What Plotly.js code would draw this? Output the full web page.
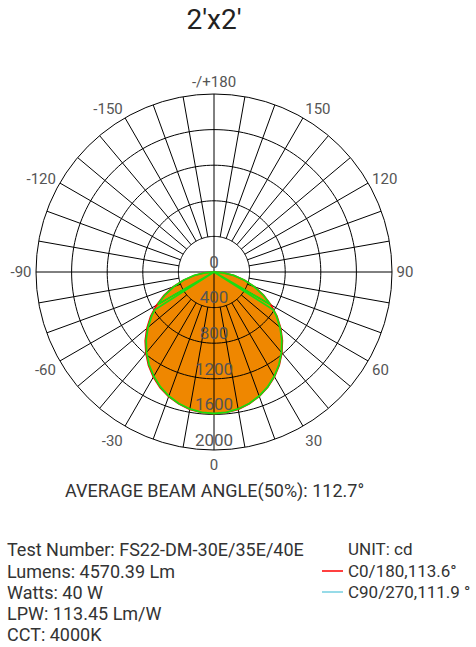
<!DOCTYPE html>
<html>
<head>
<meta charset="utf-8">
<script src="https://cdn.plot.ly/plotly-3.0.1.min.js"></script>
<style>html,body{margin:0;padding:0;background:#fff;}#chart{width:476px;height:647px;}</style>
</head>
<body>
<div id="chart"></div>
<script>
// ---- data ----
const angleTickVals = [0, 30, 60, 90, 120, 150, 180, 210, 240, 270, 300, 330];
const angleTickText = ['0', '30', '60', '90', '120', '150', '-/+180', '-150', '-120', '-90', '-60', '-30'];
const radialTicks = [0, 400, 800, 1200, 1600, 2000];

// C0/180 curve (cd)
const c0Theta = [-90,-85,-80,-75,-70,-65,-60,-55,-50,-45,-40,-35,-30,-25,-20,-15,-10,-5,0,5,10,15,20,25,30,35,40,45,50,55,60,65,70,75,80,85,90];
const c0R = [0,108,232,360,490,620,746,870,986,1094,1192,1284,1364,1434,1490,1535,1568,1586,1592,1586,1568,1533,1488,1430,1360,1280,1188,1088,980,864,740,614,486,356,230,106,0];

// C90/270 curve (cd)
const c90Theta = [-90,-85,-80,-75,-70,-65,-60,-58,-57.5,-55,-50,-45,-40,-35,-30,-25,-20,-15,-10,-5,0,5,10,15,20,25,30,35,40,45,50,55,57.5,58,60,65,70,75,80,85,90];
const c90R = [0,103,224,349,478,606,731,0,790,854,969,1078,1179,1272,1353,1424,1483,1529,1563,1583,1590,1583,1563,1529,1483,1424,1353,1272,1179,1078,969,854,790,0,731,606,478,349,224,103,0];

const titleText = "2'x2'";
const beamText = 'AVERAGE BEAM ANGLE(50%): 112.7°';
const infoLines = ['Test Number: FS22-DM-30E/35E/40E', 'Lumens: 4570.39 Lm', 'Watts: 40 W', 'LPW: 113.45 Lm/W', 'CCT: 4000K'];
const unitText = 'UNIT: cd';
const legendNames = ['C0/180,113.6°', 'C90/270,111.9 °'];
const legendColors = ['#ff0000', '#74cfe0'];

// ---- grid (drawn as traces so it sits above the fill) ----
const RMAX = 2000;
const circleR = [], circleT = [];
radialTicks.filter(v => v > 0 && v < RMAX).forEach(rv => {
  for (let a = 0; a <= 360; a += 2) { circleR.push(rv); circleT.push(a); }
  circleR.push(null); circleT.push(null);
});
const spokeR = [], spokeT = [];
for (let a = 0; a < 360; a += 10) {
  const r0 = (a % 90 === 0) ? 0 : radialTicks[1];
  spokeR.push(r0, RMAX, null); spokeT.push(a, a, null);
}

const FONT = 'Roboto, "DejaVu Sans", sans-serif';
const traces = [
  {type:'scatterpolar', r:c0R, theta:c0Theta, mode:'lines', fill:'toself', fillcolor:'#ef8700', line:{width:0, color:'rgba(0,0,0,0)'}, hoverinfo:'skip', showlegend:false},
  {type:'scatterpolar', r:circleR, theta:circleT, mode:'lines', line:{color:'#000', width:1}, connectgaps:false, hoverinfo:'skip', showlegend:false},
  {type:'scatterpolar', r:spokeR, theta:spokeT, mode:'lines', line:{color:'#000', width:1}, connectgaps:false, hoverinfo:'skip', showlegend:false},
  {type:'scatterpolar', r:c0R, theta:c0Theta, mode:'lines', line:{color:'#ff0000', width:1.5}, hoverinfo:'skip', showlegend:false},
  {type:'scatterpolar', r:c90R, theta:c90Theta, mode:'lines', line:{color:'#18dd10', width:1.8}, hoverinfo:'skip', showlegend:false},
  {type:'scatterpolar', r:radialTicks, theta:radialTicks.map(() => 0), mode:'text', text:radialTicks.map(String), textposition:'top center', textfont:{family:FONT, size:17, color:'#555'}, hoverinfo:'skip', showlegend:false}
];

const W = 476, H = 647;
const px = x => x / W, py = y => 1 - y / H;
const annotations = [
  {text:beamText, x:px(214), y:py(491), xref:'paper', yref:'paper', xanchor:'center', yanchor:'middle', showarrow:false, font:{family:FONT, size:18, color:'#333'}},
  {text:unitText, x:px(346), y:py(549), xref:'paper', yref:'paper', xanchor:'left', yanchor:'middle', showarrow:false, font:{family:FONT, size:17, color:'#333'}}
];
const infoY = [549, 571, 592, 613, 634];
infoLines.forEach((t, i) => annotations.push({text:t, x:px(5), y:py(infoY[i]), xref:'paper', yref:'paper', xanchor:'left', yanchor:'middle', showarrow:false, font:{family:FONT, size:18, color:'#333'}}));
const shapes = [];
legendNames.forEach((t, i) => {
  const yy = [571, 592][i];
  annotations.push({text:t, x:px(346), y:py(yy), xref:'paper', yref:'paper', xanchor:'left', yanchor:'middle', showarrow:false, font:{family:FONT, size:17, color:'#333'}});
  shapes.push({type:'line', xref:'paper', yref:'paper', x0:px(322), x1:px(343), y0:py(yy), y1:py(yy), line:{color:legendColors[i], width:1.5}});
});

const layout = {
  width: W, height: H,
  margin: {l:0, r:0, t:0, b:0},
  paper_bgcolor: '#fff',
  showlegend: false,
  title: {text: titleText, x: px(214), xanchor: 'center', y: py(19), yanchor: 'middle', font: {family: FONT, size: 28, color: '#222'}},
  polar: {
    domain: {x: [px(36), px(392)], y: [py(450), py(94)]},
    bgcolor: '#fff',
    radialaxis: {range: [0, RMAX], showgrid: false, showline: false, showticklabels: false, ticks: ''},
    angularaxis: {
      rotation: -90, direction: 'counterclockwise',
      tickmode: 'array', tickvals: angleTickVals, ticktext: angleTickText,
      showgrid: false, showline: true, linecolor: '#000', linewidth: 1,
      ticks: 'outside', ticklen: 1, tickcolor: 'rgba(0,0,0,0)',
      tickfont: {family: FONT, size: 15, color: '#555'}
    }
  },
  annotations: annotations,
  shapes: shapes
};

Plotly.newPlot('chart', traces, layout, {displayModeBar: false, staticPlot: true});
</script>
</body>
</html>
